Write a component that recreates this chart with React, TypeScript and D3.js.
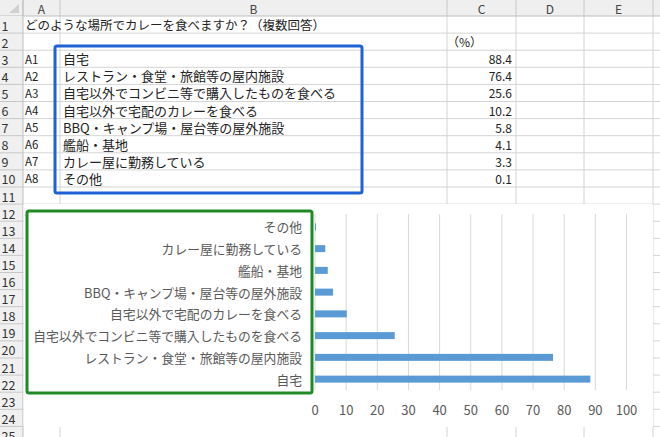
import React from 'react';
import * as d3 from 'd3';

const title = 'どのような場所でカレーを食べますか？（複数回答）';
const unitLabel = '（%）';
const codes = ['A1', 'A2', 'A3', 'A4', 'A5', 'A6', 'A7', 'A8'];
const categories = [
  '自宅',
  'レストラン・食堂・旅館等の屋内施設',
  '自宅以外でコンビニ等で購入したものを食べる',
  '自宅以外で宅配のカレーを食べる',
  'BBQ・キャンプ場・屋台等の屋外施設',
  '艦船・基地',
  'カレー屋に勤務している',
  'その他',
];
const values = [88.4, 76.4, 25.6, 10.2, 5.8, 4.1, 3.3, 0.1];
const xTicks = [0, 10, 20, 30, 40, 50, 60, 70, 80, 90, 100];
const colLetters = ['A', 'B', 'C', 'D', 'E', 'F'];

const W = 660;
const H = 437;
const HEADER_H = 16;
const ROW_H = 17.1;
const ROWHDR_W = 23;
const colEdges = [23, 60, 447, 516, 584, 653, 760];
const NROWS = 25;
const FONT = '"Noto Sans CJK JP", "Noto Sans", sans-serif';

const rowTop = (r: number) => HEADER_H + (r - 1) * ROW_H;
const rowMid = (r: number) => rowTop(r) + ROW_H / 2;

export default function App() {
  const x = d3.scaleLinear().domain([0, 100]).range([315, 626.5]);
  const plotTop = 216;
  const plotBottom = 390;
  const yOrder = [...categories].reverse();
  const y = d3.scaleBand<string>().domain(yOrder).range([plotTop, plotBottom]).paddingInner(0.67).paddingOuter(0.335);
  const barH = 7;

  const rows = d3.range(1, NROWS + 1);

  return (
    <svg
      width={W}
      height={H}
      style={{ position: 'fixed', left: 0, top: 0, background: '#fff' }}
      fontFamily={FONT}
    >
      {/* cell grid */}
      <rect x={0} y={0} width={W} height={H} fill="#fff" />
      {rows.map((r) => (
        <line key={'hl' + r} x1={0} x2={W} y1={rowTop(r) + ROW_H} y2={rowTop(r) + ROW_H} stroke="#d4d4d4" strokeWidth={1} />
      ))}
      {colEdges.slice(1).map((cx, i) => (
        <line key={'vl' + i} x1={cx} x2={cx} y1={0} y2={H} stroke="#d4d4d4" strokeWidth={1} />
      ))}

      {/* column header */}
      <rect x={0} y={0} width={W} height={HEADER_H} fill="#efefef" />
      <line x1={0} x2={W} y1={HEADER_H} y2={HEADER_H} stroke="#bdbdbd" />
      {colEdges.slice(0, -1).map((cx, i) => (
        <g key={'ch' + i}>
          <line x1={cx} x2={cx} y1={0} y2={HEADER_H} stroke="#c8c8c8" />
          {colEdges[i + 1] < W + 50 && (
            <text x={(cx + colEdges[i + 1]) / 2} y={HEADER_H / 2} textAnchor="middle" dominantBaseline="central" fontSize={12} fill="#444">
              {colLetters[i]}
            </text>
          )}
        </g>
      ))}
      <path d={`M${ROWHDR_W - 4},4 L${ROWHDR_W - 4},${HEADER_H - 3} L${ROWHDR_W - 14},${HEADER_H - 3} Z`} fill="#d0d0d0" />

      {/* row header */}
      <rect x={0} y={HEADER_H} width={ROWHDR_W} height={H - HEADER_H} fill="#f0f0f0" />
      <line x1={ROWHDR_W} x2={ROWHDR_W} y1={0} y2={H} stroke="#bdbdbd" />
      {rows.map((r) => (
        <g key={'rh' + r}>
          <line x1={0} x2={ROWHDR_W} y1={rowTop(r) + ROW_H} y2={rowTop(r) + ROW_H} stroke="#c8c8c8" />
          <text x={1.5} y={rowMid(r) + 0.5} dominantBaseline="central" fontSize={12.5} fill="#333">
            {r}
          </text>
        </g>
      ))}

      {/* cell contents */}
      <text x={25} y={rowMid(1)} dominantBaseline="central" fontSize={12.5} fill="#222">
        {title}
      </text>
      <text x={447} y={rowMid(2)} dominantBaseline="central" fontSize={12} fill="#222">
        {unitLabel}
      </text>
      {categories.map((c, i) => (
        <g key={'cell' + i}>
          <text x={25} y={rowMid(3 + i)} dominantBaseline="central" fontSize={11.5} fill="#222">
            {codes[i]}
          </text>
          <text x={63} y={rowMid(3 + i)} dominantBaseline="central" fontSize={13} fill="#222">
            {c}
          </text>
          <text x={512} y={rowMid(3 + i)} textAnchor="end" dominantBaseline="central" fontSize={12} fill="#222">
            {values[i].toFixed(1)}
          </text>
        </g>
      ))}

      {/* blue highlight */}
      <rect x={55} y={46} width={307} height={147} fill="none" stroke="#1d63d6" strokeWidth={3} rx={2} />

      {/* chart area */}
      <rect x={ROWHDR_W + 0.5} y={204} width={653 - ROWHDR_W - 0.5} height={223} fill="#fff" />
      {xTicks.map((t) => (
        <line key={'g' + t} x1={x(t)} x2={x(t)} y1={214} y2={plotBottom} stroke="#d9d9d9" strokeWidth={1} />
      ))}
      {yOrder.map((c) => {
        const v = values[categories.indexOf(c)];
        const cy = (y(c) as number) + y.bandwidth() / 2;
        return (
          <g key={'bar' + c}>
            <rect x={x(0)} y={cy - barH / 2} width={Math.max(x(v) - x(0), 1)} height={barH} fill="#5b9bd5" />
            <text x={302} y={cy} textAnchor="end" dominantBaseline="central" fontSize={12.8} fill="#595959">
              {c}
            </text>
          </g>
        );
      })}
      {xTicks.map((t) => (
        <text key={'t' + t} x={x(t)} y={409} textAnchor="middle" dominantBaseline="central" fontSize={13} fill="#595959">
          {t}
        </text>
      ))}

      {/* green highlight */}
      <rect x={27} y={211} width={285} height={182} fill="none" stroke="#1f8a24" strokeWidth={3} rx={2} />
    </svg>
  );
}
